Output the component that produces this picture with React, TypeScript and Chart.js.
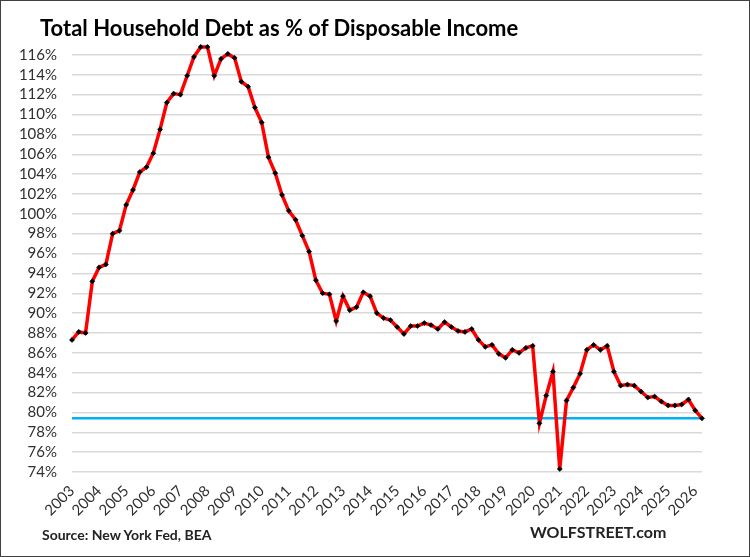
import React, { useEffect, useRef } from "react";
import { Chart, registerables } from "chart.js";

Chart.register(...registerables);

// ---- Data ----
const YEARS = [
  "2003", "2004", "2005", "2006", "2007", "2008", "2009", "2010", "2011", "2012", "2013", "2014",
  "2015", "2016", "2017", "2018", "2019", "2020", "2021", "2022", "2023", "2024", "2025", "2026",
];
const QUARTERS = ["Q1", "Q2", "Q3", "Q4"];

// Household debt as % of disposable income, quarterly from 2003 Q1
const DEBT_PCT = [
  87.3, 88.1, 88.0, 93.2, 94.6, 94.9, 98.0, 98.3,
  100.9, 102.4, 104.2, 104.7, 106.1, 108.5, 111.2, 112.1,
  112.0, 113.9, 115.8, 116.8, 116.8, 113.9, 115.6, 116.1,
  115.7, 113.3, 112.8, 110.7, 109.2, 105.7, 104.1, 101.9,
  100.3, 99.4, 97.8, 96.2, 93.3, 92.0, 91.9, 89.2,
  91.7, 90.3, 90.6, 92.1, 91.7, 90.0, 89.5, 89.3,
  88.6, 87.9, 88.7, 88.7, 89.0, 88.8, 88.4, 89.1,
  88.6, 88.2, 88.1, 88.4, 87.3, 86.6, 86.8, 85.9,
  85.5, 86.3, 86.0, 86.5, 86.7, 78.9, 81.7, 84.1,
  74.3, 81.2, 82.5, 83.9, 86.3, 86.8, 86.3, 86.7,
  84.1, 82.7, 82.8, 82.7, 82.1, 81.5, 81.6, 81.1,
  80.7, 80.7, 80.8, 81.3, 80.2, 79.4,
];

const REFERENCE_LEVEL = 79.4;

const Y_TICK_VALUES = [
  74, 76, 78, 80, 82, 84, 86, 88, 90, 92, 94, 96, 98, 100, 102, 104, 106, 108, 110, 112, 114, 116,
];

const CATEGORIES = YEARS.flatMap((y) => QUARTERS.map((q) => `${y} ${q}`)).slice(0, DEBT_PCT.length);

const FONT = "Lato, 'Open Sans', sans-serif";
const TEXT_COLOR = "#303030";

const referenceLinePlugin = {
  id: "referenceLine",
  beforeDatasetsDraw(chart: any) {
    const { ctx, chartArea, scales } = chart;
    const y = scales.y.getPixelForValue(REFERENCE_LEVEL);
    ctx.save();
    ctx.strokeStyle = "#00B0F0";
    ctx.lineWidth = 2.5;
    ctx.beginPath();
    ctx.moveTo(chartArea.left, y);
    ctx.lineTo(chartArea.right + 1, y);
    ctx.stroke();
    ctx.restore();
  },
};

export default function App() {
  const canvasRef = useRef<HTMLCanvasElement | null>(null);

  useEffect(() => {
    document.body.style.margin = "0";
    const canvas = canvasRef.current;
    if (!canvas) return;
    const chart = new Chart(canvas, {
      type: "line",
      data: {
        labels: CATEGORIES,
        datasets: [
          {
            label: "Total Household Debt as % of Disposable Income",
            data: DEBT_PCT,
            borderColor: "#FF0000",
            borderWidth: 3.5,
            pointStyle: "rectRot",
            pointRadius: 2.6,
            pointBackgroundColor: "#000000",
            pointBorderColor: "#000000",
            pointBorderWidth: 0.5,
            tension: 0,
          },
        ],
      },
      options: {
        animation: false,
        responsive: false,
        devicePixelRatio: 1,
        layout: { padding: { left: 8, right: 48, top: 40, bottom: 30 } },
        plugins: {
          legend: { display: false },
          title: { display: false },
          tooltip: { enabled: false },
        },
        scales: {
          x: {
            type: "category",
            offset: false,
            grid: { display: false, drawTicks: false },
            border: { display: false },
            afterBuildTicks: (axis: any) => {
              axis.ticks = YEARS.map((_, i) => ({ value: i * 4 }));
            },
            afterFit: (axis: any) => {
              axis.height = 55;
            },
            ticks: {
              autoSkip: false,
              minRotation: 45,
              maxRotation: 45,
              padding: 10,
              color: TEXT_COLOR,
              font: { family: FONT, size: 15 },
              callback: (value: any) => YEARS[Math.round(Number(value) / 4)],
            },
          },
          y: {
            min: 74,
            max: 117.5,
            grid: { color: "#d9d9d9", lineWidth: 1.4, drawTicks: false },
            border: { display: false },
            afterBuildTicks: (axis: any) => {
              axis.ticks = Y_TICK_VALUES.map((v) => ({ value: v }));
            },
            afterFit: (axis: any) => {
              axis.width = 64;
            },
            ticks: {
              autoSkip: false,
              padding: 15,
              color: TEXT_COLOR,
              font: { family: FONT, size: 15 },
              callback: (value: any) => `${value}%`,
            },
          },
        },
      },
      plugins: [referenceLinePlugin],
    });
    return () => chart.destroy();
  }, []);

  return (
    <div style={{ position: "relative", width: 750, height: 557, background: "#fff", overflow: "hidden" }}>
      <canvas ref={canvasRef} width={750} height={557} style={{ position: "absolute", left: 0, top: 0 }} />
      <div
        style={{
          position: "absolute",
          left: 40,
          top: 14,
          fontFamily: FONT,
          fontWeight: 700,
          fontSize: 22,
          color: "#000",
          whiteSpace: "nowrap",
          lineHeight: "28px",
        }}
      >
        Total Household Debt as % of Disposable Income
      </div>
      <div
        style={{
          position: "absolute",
          left: 42,
          top: 525,
          fontFamily: FONT,
          fontWeight: 700,
          fontSize: 14,
          color: "#222",
          whiteSpace: "nowrap",
          lineHeight: "20px",
        }}
      >
        Source: New York Fed, BEA
      </div>
      <div
        style={{
          position: "absolute",
          left: 530,
          top: 520,
          fontFamily: FONT,
          fontWeight: 700,
          fontSize: 16,
          color: "#222",
          whiteSpace: "nowrap",
          lineHeight: "24px",
        }}
      >
        WOLFSTREET.com
      </div>
      <div
        style={{
          position: "absolute",
          left: 0,
          top: 0,
          width: 750,
          height: 557,
          boxSizing: "border-box",
          border: "1.5px solid #404040",
          pointerEvents: "none",
        }}
      />
    </div>
  );
}
